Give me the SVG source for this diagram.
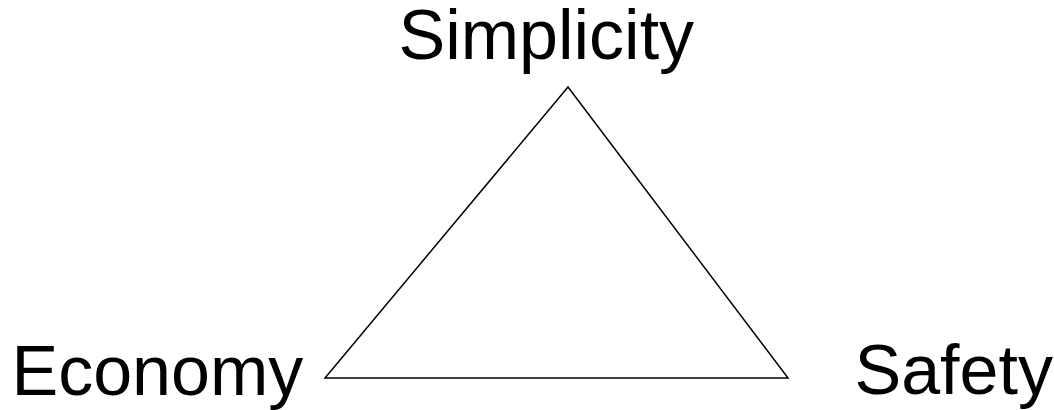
<svg xmlns="http://www.w3.org/2000/svg" width="1054" height="410" viewBox="0 0 1054 410">
<style>
.lbl{font-family:"Liberation Sans",Arial,sans-serif;font-size:70px;fill:#000}
.edge{fill:none;stroke:#000;stroke-width:1.5}
</style>
<rect width="1054" height="410" fill="#fff"/>
<g id="connectors">
<path class="edge" d="M568,87 L325,378 L788,378 Z"/>
</g>
<g id="node-simplicity"><text class="lbl" x="398.5" y="59">Simplicity</text></g>
<g id="node-economy"><text class="lbl" x="11.5" y="394.5">Economy</text></g>
<g id="node-safety"><text class="lbl" x="854.5" y="394">Safety</text></g>
</svg>
